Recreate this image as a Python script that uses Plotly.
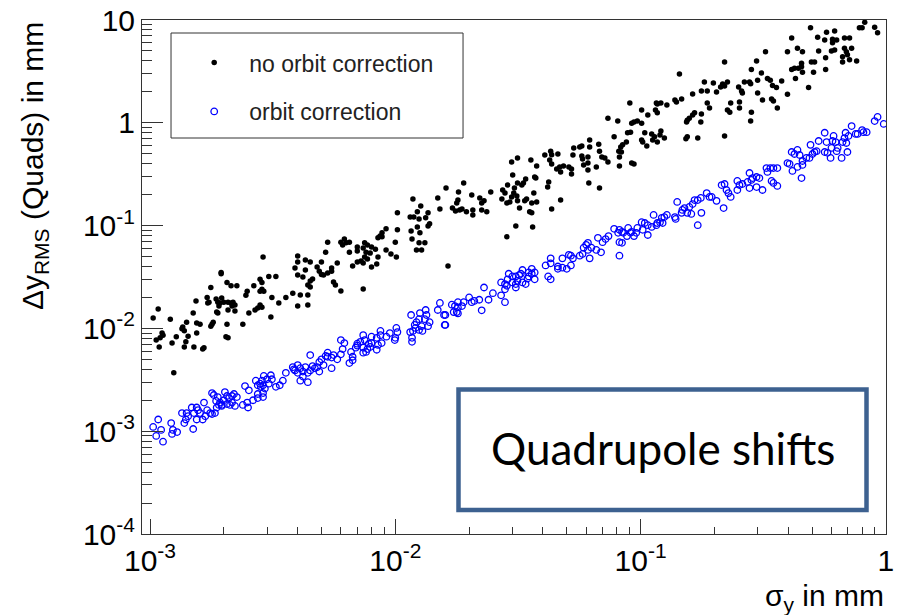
import plotly.graph_objects as go

# ---- data: no orbit correction (black dots) ----
no_corr_x = [
0.00195,0.00195,0.00206,0.00214,0.00226,0.00177,0.00281,0.00286,0.00305,0.00326,
0.00265,0.00286,0.00291,0.00281,0.00249,0.00246,0.00382,0.00314,0.00358,0.00171,
0.00174,0.00172,0.00186,0.00189,0.00193,0.00196,0.0020,0.00154,0.00208,0.00214,
0.00218,0.00222,0.00216,0.00281,0.00286,0.00275,0.00268,0.00335,0.00191,0.00208,
0.00222,0.00108,0.00253,0.00187,0.00189,0.0015,0.00311,0.00103,0.00121,0.00141,
0.00181,0.00179,0.00177,0.00155,0.0016,0.00206,0.00239,0.00136,0.00135,0.00138,
0.00155,0.00112,0.00113,0.0011,0.00106,0.00128,0.00143,0.00204,0.00208,0.00123,
0.0014,0.00138,0.00151,0.00166,0.00164,0.00109,0.00125,0.00289,
0.0127,0.0123,0.0152,0.0102,0.0136,0.0133,0.0115,0.0119,0.0125,0.0123,
0.0138,0.0136,0.0116,0.0126,0.0102,0.00917,0.00883,0.00867,0.0085,0.00883,
0.0117,0.0125,0.0132,0.0122,0.0128,0.0100,0.00917,0.0096,0.0101,0.0080,
0.0083,0.0079,0.0085,0.0084,0.0080,0.0075,0.0077,0.0074,0.0076,0.0075,
0.00725,0.0077,0.0074,0.0070,0.0070,0.0065,0.0070,0.0067,0.0062,0.0060,
0.0061,0.0063,0.0065,0.0053,0.0052,0.0058,0.0055,0.0055,0.0050,0.0048,
0.0049,0.0051,0.0045,0.0043,0.0043,0.0042,0.0040,0.0039,0.0040,0.0040,
0.0046,0.0045,0.0044,0.0045,0.0050,0.0053,0.0056,0.0057,0.0060,0.0074,
0.0041,0.0044,0.0040,0.0044,0.0118,0.0149,
0.062,0.062,0.0576,0.0565,0.0534,0.053,0.0576,0.058,0.061,0.061,
0.0586,0.061,0.0523,0.0523,0.051,0.0485,0.0468,0.0472,0.0615,0.0407,
0.043,0.0434,0.046,0.0426,0.0434,0.0455,0.0422,0.0418,0.0472,0.0434,
0.0377,0.037,0.0374,0.0367,0.0377,0.036,0.0357,0.0353,0.036,0.0363,
0.0315,0.0298,0.0301,0.0287,0.034,0.0333,0.0328,0.0315,0.0306,0.0274,
0.028,0.0304,0.0313,0.0315,0.0298,0.0293,0.0285,0.0272,0.0343,0.0337,
0.0321,0.031,0.0285,0.019,0.0181,0.0161,0.0245,0.0205,0.0221,0.023,
0.0225,0.018,0.0178,0.0171,0.0176,0.0183,0.0187,0.0195,0.0207,0.0207,
0.0225,0.0236,0.0164,
0.22,0.144,0.182,0.198,0.216,0.226,0.212,0.22,0.251,0.258,
0.26,0.204,0.177,0.187,0.163,0.147,0.138,0.14,0.116,0.117,
0.121,0.128,0.0904,0.101,0.107,0.115,0.117,0.191,0.187,0.233,
0.253,0.226,0.231,0.253,0.166,0.163,0.158,0.155,0.154,0.177,
0.176,0.0736,0.0807,0.094,0.097,0.101,0.092,0.0885,0.091,0.104,
0.111,0.121,0.12,0.114,0.112,0.117,0.125,0.101,0.102,0.106,
0.078,0.0875,0.0845,0.083,0.0815,0.082,0.0835,0.155,0.153,0.171,
0.22,0.0675,0.068,0.0695,0.0715,0.0736,0.066,0.082,0.092,0.094,
0.068,
0.82,0.78,0.80,0.90,0.925,0.493,0.573,0.618,0.527,0.413,
0.563,0.606,0.63,0.606,0.678,0.711,0.725,0.678,0.69,0.697,
0.666,0.60,0.618,0.532,0.436,0.397,0.457,0.323,0.568,0.512,
0.497,0.453,0.453,0.44,0.457,0.424,0.413,0.507,0.568,0.428,
0.484,0.397,0.76,0.711,0.666,0.376,0.297,0.283,0.311,0.30,
0.278,0.265,0.281,0.329,0.338,0.345,0.358,0.30,0.314,0.342,
0.348,0.361,0.283,0.281]
no_corr_y = [
0.035,0.034,0.028,0.026,0.026,0.025,0.030,0.028,0.032,0.032,
0.026,0.024,0.023,0.023,0.023,0.021,0.022,0.020,0.020,0.020,
0.018,0.0177,0.0193,0.018,0.0177,0.0198,0.018,0.0185,0.018,0.0177,
0.018,0.0169,0.0165,0.0169,0.0161,0.0158,0.0151,0.0177,0.0165,0.0151,
0.0148,0.0154,0.0141,0.0144,0.0141,0.0141,0.0129,0.0126,0.0123,0.0115,
0.0115,0.011,0.0105,0.0113,0.011,0.011,0.011,0.0103,0.0099,0.0095,
0.009,0.009,0.0086,0.0081,0.0077,0.0083,0.0084,0.0083,0.0081,0.0072,
0.0074,0.0066,0.0066,0.0065,0.0063,0.0066,0.0037,0.0495,
0.155,0.136,0.145,0.133,0.133,0.119,0.121,0.121,0.116,0.097,
0.104,0.099,0.0887,0.085,0.091,0.093,0.085,0.079,0.076,0.0777,
0.074,0.068,0.068,0.058,0.058,0.069,0.058,0.053,0.0495,0.062,
0.059,0.054,0.0495,0.0423,0.0396,0.068,0.0646,0.0606,0.055,0.0495,
0.0453,0.0473,0.0433,0.062,0.0566,0.055,0.0443,0.0405,0.074,0.069,
0.0646,0.068,0.069,0.069,0.055,0.0433,0.0387,0.036,0.0443,0.0396,
0.036,0.0331,0.0443,0.0463,0.037,0.0316,0.0331,0.0387,0.0506,0.0443,
0.0302,0.0289,0.0264,0.0253,0.0335,0.0346,0.0283,0.0264,0.0231,0.0242,
0.0211,0.0211,0.0165,0.0169,0.181,0.186,
0.68,0.58,0.595,0.58,0.57,0.486,0.475,0.444,0.465,0.406,
0.389,0.347,0.355,0.318,0.372,0.38,0.372,0.333,0.26,0.486,
0.53,0.49,0.497,0.434,0.398,0.355,0.266,0.237,0.177,0.145,
0.38,0.297,0.29,0.207,0.17,0.166,0.434,0.136,0.133,0.097,
0.455,0.416,0.31,0.248,0.284,0.26,0.248,0.26,0.232,0.222,
0.207,0.207,0.194,0.174,0.19,0.17,0.166,0.181,0.181,0.174,
0.148,0.099,0.0777,0.26,0.212,0.232,0.212,0.198,0.186,0.174,
0.166,0.177,0.166,0.148,0.139,0.142,0.145,0.136,0.142,0.127,
0.142,0.136,0.0405,
3.9,2.98,2.49,2.44,2.38,2.49,2.23,2.28,2.23,2.04,
1.95,1.99,2.04,2.04,1.91,1.7,1.67,1.59,1.56,1.52,
1.56,1.49,1.56,1.33,1.19,1.33,1.25,1.39,1.56,1.56,
1.59,1.33,1.27,1.39,1.25,1.19,1.11,1.06,1.02,1.22,
1.02,1.11,1.04,1.02,1.04,0.99,0.99,0.80,0.81,0.80,
0.78,0.83,0.76,0.73,0.68,0.65,0.71,0.68,0.65,0.595,
0.73,0.65,0.61,0.58,0.53,0.465,0.52,0.73,0.70,0.71,
0.745,0.62,0.53,0.465,0.455,0.416,0.372,0.38,0.406,0.398,
0.232,
9.5,8.4,8.4,8.5,7.5,8.4,7.6,7.8,6.8,6.7,
6.4,6.5,6.4,6.0,6.7,6.7,5.3,5.3,4.9,4.6,
4.4,5.0,5.1,5.0,5.3,4.9,4.9,4.9,4.3,3.9,
3.9,3.8,3.5,3.4,3.1,3.4,3.3,3.1,3.3,2.7,
2.2,1.9,4.0,4.1,3.9,2.55,4.0,3.3,3.05,2.6,
2.5,2.5,2.4,2.7,2.6,2.3,2.2,1.95,1.67,1.7,
1.63,1.39,1.27,1.04]

# ---- data: orbit correction (blue open circles) ----
corr_x = [
0.00382,0.00386,0.00358,0.00311,0.00314,0.00291,0.0030,0.00286,0.00281,0.00289,
0.00283,0.00294,0.0027,0.00275,0.00305,0.00348,0.00338,0.00326,0.00244,0.00253,
0.00275,0.00289,0.00289,0.00275,0.00263,0.00249,0.00239,0.00251,0.00179,0.00182,
0.00186,0.00189,0.00193,0.00196,0.00202,0.00206,0.0020,0.0021,0.00216,0.0022,
0.00226,0.00216,0.00222,0.00212,0.00206,0.00191,0.00187,0.00196,0.00166,0.00148,
0.00155,0.00157,0.00151,0.0016,0.00171,0.00176,0.00168,0.00184,0.00179,0.00135,
0.00141,0.00143,0.0014,0.00138,0.00155,0.00164,0.0015,0.00108,0.00103,0.00111,
0.00122,0.00124,0.00129,0.00123,0.00106,0.00113,
0.0152,0.0149,0.0158,0.0159,0.0133,0.0134,0.0132,0.0138,0.0136,0.0126,
0.0125,0.0122,0.012,0.0128,0.0129,0.0125,0.0121,0.0118,0.0116,0.0115,
0.0117,0.0117,0.0101,0.0102,0.0100,0.00995,0.0095,0.0092,0.0087,0.0087,
0.0088,0.0085,0.0084,0.0080,0.0080,0.0078,0.0079,0.0075,0.0077,0.0074,
0.0076,0.0074,0.0074,0.0072,0.0070,0.0070,0.0069,0.0084,0.0060,0.0062,
0.0066,0.0067,0.0065,0.0067,0.0061,0.0060,0.0058,0.0056,0.0053,0.0055,
0.0052,0.0053,0.0050,0.0051,0.0049,0.0048,0.0049,0.0047,0.0055,0.0045,
0.0046,0.0045,0.0044,0.0043,0.0042,0.0041,0.0040,0.0040,0.0039,0.0042,
0.0041,0.0044,
0.061,0.060,0.0586,0.061,0.063,0.062,0.058,0.0565,0.053,0.052,
0.051,0.052,0.050,0.048,0.048,0.046,0.046,0.043,0.043,0.041,
0.042,0.043,0.036,0.037,0.037,0.036,0.035,0.035,0.0346,0.033,
0.0325,0.032,0.031,0.0315,0.031,0.031,0.030,0.029,0.0287,0.030,
0.0285,0.028,0.027,0.028,0.027,0.028,0.034,0.033,0.025,0.023,
0.0225,0.024,0.022,0.021,0.0205,0.020,0.019,0.0187,0.018,0.018,
0.0175,0.017,0.0178,0.018,0.0173,0.016,0.016,
0.248,0.253,0.26,0.248,0.214,0.22,0.224,0.228,0.233,0.218,
0.186,0.191,0.195,0.204,0.176,0.177,0.166,0.171,0.163,0.158,
0.151,0.148,0.155,0.161,0.147,0.141,0.171,0.138,0.139,0.128,
0.125,0.122,0.12,0.117,0.123,0.116,0.113,0.111,0.107,0.104,
0.101,0.102,0.107,0.097,0.096,0.094,0.092,0.089,0.091,0.088,
0.085,0.084,0.082,0.081,0.078,0.082,0.084,0.074,0.072,0.070,
0.067,0.066,0.069,0.082,
0.925,0.90,0.98,0.725,0.80,0.835,0.81,0.767,0.753,0.685,
0.704,0.678,0.666,0.69,0.612,0.624,0.606,0.563,0.573,0.532,
0.493,0.563,0.578,0.60,0.636,0.63,0.697,0.66,0.595,0.522,
0.512,0.502,0.488,0.474,0.457,0.436,0.413,0.424,0.445,0.397,
0.405,0.436,0.416,0.457,0.453,0.361,0.348,0.338,0.326,0.329,
0.278,0.286,0.297,0.305,0.273,0.283,0.278,0.297,0.314,0.342,
0.348,0.361]
corr_y = [
0.0042,0.0040,0.0037,0.0035,0.0032,0.00345,0.0032,0.0031,0.0029,0.0028,
0.0027,0.0026,0.0031,0.0028,0.0029,0.0031,0.0028,0.0027,0.00275,0.0025,
0.0023,0.00235,0.00215,0.0021,0.0020,0.0019,0.0018,0.0017,0.00235,0.00225,
0.00197,0.00215,0.0019,0.0018,0.0024,0.0022,0.0020,0.0021,0.0022,0.0023,
0.00215,0.0019,0.00176,0.0018,0.00184,0.0018,0.0017,0.00176,0.0019,0.0017,
0.0017,0.0016,0.0015,0.0015,0.0016,0.0015,0.0014,0.0015,0.00147,0.0015,
0.0015,0.0014,0.0013,0.0012,0.0013,0.0013,0.00105,0.0013,0.0011,0.00103,
0.0012,0.00103,0.00098,0.00094,0.0009,0.00079,
0.0177,0.0151,0.0135,0.0108,0.0151,0.0135,0.0123,0.0115,0.0105,0.0141,
0.0123,0.0115,0.0108,0.0105,0.00945,0.00966,0.0101,0.00945,0.0135,0.0092,
0.0081,0.0074,0.0101,0.0092,0.0081,0.0077,0.009,0.0083,0.00945,0.0086,
0.0072,0.0069,0.0081,0.0083,0.0072,0.0071,0.0066,0.0077,0.0063,0.0065,
0.0059,0.0058,0.0086,0.0074,0.0068,0.0071,0.0065,0.0062,0.0077,0.0072,
0.0059,0.0053,0.0046,0.0049,0.0063,0.0056,0.0050,0.0055,0.0053,0.0052,
0.0054,0.0058,0.0050,0.0044,0.0047,0.0042,0.0038,0.0041,0.0041,0.0055,
0.0043,0.0039,0.0037,0.0042,0.0038,0.0041,0.0037,0.0044,0.0039,0.0034,
0.0031,0.0030,
0.068,0.065,0.061,0.058,0.061,0.048,0.053,0.051,0.048,0.051,
0.052,0.041,0.038,0.048,0.039,0.040,0.038,0.048,0.043,0.041,
0.032,0.030,0.038,0.035,0.030,0.034,0.035,0.032,0.0305,0.037,
0.034,0.033,0.032,0.029,0.027,0.025,0.032,0.034,0.030,0.028,
0.026,0.027,0.028,0.024,0.021,0.018,0.027,0.028,0.022,0.025,
0.015,0.019,0.019,0.0185,0.018,0.020,0.018,0.0165,0.018,0.016,
0.0165,0.017,0.0144,0.014,0.0144,0.0135,0.0108,
0.272,0.248,0.254,0.222,0.248,0.254,0.222,0.207,0.19,0.148,
0.207,0.19,0.19,0.174,0.186,0.133,0.177,0.177,0.162,0.152,
0.148,0.142,0.133,0.13,0.133,0.17,0.101,0.121,0.116,0.127,
0.121,0.119,0.108,0.106,0.106,0.101,0.127,0.097,0.101,0.106,
0.108,0.091,0.081,0.095,0.085,0.079,0.087,0.095,0.085,0.079,
0.085,0.087,0.091,0.085,0.093,0.069,0.068,0.079,0.074,0.069,
0.076,0.058,0.055,0.051,
1.14,1.04,0.975,0.93,0.85,0.81,0.81,0.78,0.78,0.80,
0.745,0.71,0.65,0.636,0.745,0.65,0.665,0.80,0.65,0.665,
0.61,0.52,0.51,0.57,0.57,0.53,0.52,0.455,0.455,0.53,
0.52,0.497,0.455,0.455,0.425,0.545,0.52,0.497,0.486,0.406,
0.398,0.372,0.34,0.389,0.29,0.363,0.363,0.363,0.363,0.333,
0.325,0.29,0.297,0.29,0.266,0.278,0.232,0.237,0.222,0.272,
0.26,0.243]

series_names = ["no orbit correction", "orbit correction"]
x_tick_vals = [0.001, 0.01, 0.1, 1]
x_tick_text = ["10<sup>-3</sup>", "10<sup>-2</sup>", "10<sup>-1</sup>", "1"]
y_tick_vals = [0.0001, 0.001, 0.01, 0.1, 1, 10]
y_tick_text = ["10<sup>-4</sup>", "10<sup>-3</sup>", "10<sup>-2</sup>", "10<sup>-1</sup>", "1", "10"]

FONT = "Liberation Sans, Arial, sans-serif"
AX = "#333333"

fig = go.Figure()
fig.add_trace(go.Scatter(
    x=no_corr_x, y=no_corr_y, mode="markers", name=series_names[0],
    legendgroup="a",
    marker=dict(symbol="circle", size=5.5, color="black", line=dict(width=0)),
))
fig.add_trace(go.Scatter(
    x=corr_x, y=corr_y, mode="markers", name=series_names[1],
    legendgroup="b",
    marker=dict(symbol="circle-open", size=6.5, color="#0000ff", line=dict(width=1.3, color="#0000ff")),
))

common = dict(
    type="log", showline=True, mirror=True, linecolor=AX, linewidth=1,
    showgrid=False, zeroline=False, ticks="inside", tickcolor=AX, tickwidth=1,
    tickmode="array", automargin=False,
    tickfont=dict(family=FONT, size=30, color="black"),
)
fig.update_xaxes(
    range=[-3.0326, 0.0005], tickvals=x_tick_vals, ticktext=x_tick_text, ticklen=15,
    minor=dict(ticks="inside", ticklen=7, tickcolor=AX, tickwidth=1, dtick="D1", showgrid=False),
    **common,
)
fig.update_yaxes(
    range=[-4, 1], tickvals=y_tick_vals, ticktext=y_tick_text, ticklen=21,
    minor=dict(ticks="inside", ticklen=10, tickcolor=AX, tickwidth=1, dtick="D1", showgrid=False),
    **common,
)

fig.update_layout(
    width=898, height=615,
    margin=dict(l=142, r=12, t=20, b=81, pad=0, autoexpand=False),
    paper_bgcolor="white", plot_bgcolor="white",
    showlegend=True,
    legend=dict(
        x=0.05, y=0.959, xanchor="left", yanchor="top",
        bgcolor="rgba(0,0,0,0)", borderwidth=0,
        font=dict(family=FONT, size=23, color="#222"),
        itemwidth=60, traceorder="grouped", tracegroupgap=16,
    ),
    shapes=[
        dict(type="rect", xref="paper", yref="paper", x0=0.039, x1=0.4315, y0=0.7704, y1=0.9747,
             line=dict(color=AX, width=1), fillcolor="white", layer="below"),
        dict(type="rect", xref="paper", yref="paper", x0=0.4254, x1=0.9738, y0=0.0467, y1=0.2811,
             line=dict(color="#3d6190", width=4.5), fillcolor="white", layer="above"),
    ],
    annotations=[
        dict(text="Δy<sub>RMS</sub> (Quads) in mm", xref="paper", yref="paper",
             x=-0.145, y=1.0, xanchor="center", yanchor="top", textangle=-90,
             showarrow=False, font=dict(family=FONT, size=30, color="black")),
        dict(text="σ<sub>y</sub> in mm", xref="paper", yref="paper",
             x=1.0, y=-0.1226, xanchor="right", yanchor="middle",
             showarrow=False, font=dict(family=FONT, size=30, color="black")),
        dict(text="Quadrupole shifts", xref="paper", yref="paper",
             x=0.6996, y=0.168, xanchor="center", yanchor="middle",
             showarrow=False, font=dict(family="Lato, Open Sans, sans-serif", size=44, color="black")),
    ],
)

fig.write_html("out.html")
